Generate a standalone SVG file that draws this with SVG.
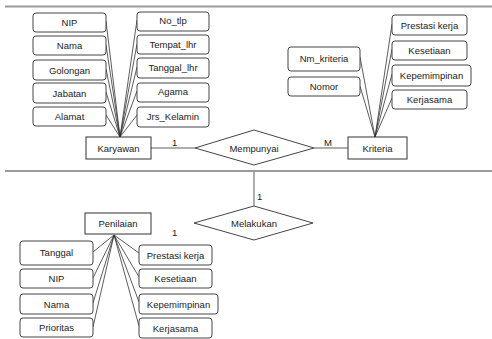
<svg xmlns="http://www.w3.org/2000/svg" width="492" height="339" viewBox="0 0 492 339">
<style>
.sep{stroke:#9a9a9a;stroke-width:2;fill:none}
.ent{fill:#fff;stroke:#333;stroke-width:1}
.att{fill:#fff;stroke:#444;stroke-width:1}
.rel{fill:#fff;stroke:#444;stroke-width:1}
.ln{stroke:#333;stroke-width:0.8;fill:none}
text{font-family:"Liberation Sans",Arial,sans-serif;font-size:9.5px;fill:#222;text-anchor:middle;dominant-baseline:central}
.card{text-anchor:start}
</style>
<rect width="492" height="339" fill="#fff"/>
<line class="sep" x1="5" y1="6.5" x2="492" y2="6.5"/>
<line class="sep" x1="5" y1="171" x2="492" y2="171"/>

<g id="connectors">
<g class="ln">
<line x1="106" y1="21" x2="120" y2="137"/>
<line x1="106" y1="45" x2="120" y2="137"/>
<line x1="106" y1="69" x2="120" y2="137"/>
<line x1="106" y1="92" x2="120" y2="137"/>
<line x1="106" y1="115" x2="120" y2="137"/>
<line x1="137" y1="20" x2="120" y2="137"/>
<line x1="137" y1="44" x2="120" y2="137"/>
<line x1="137" y1="67" x2="120" y2="137"/>
<line x1="137" y1="91" x2="120" y2="137"/>
<line x1="137" y1="115" x2="120" y2="137"/>
<line x1="360" y1="57" x2="375" y2="137"/>
<line x1="360" y1="86" x2="375" y2="137"/>
<line x1="392" y1="24" x2="375" y2="137"/>
<line x1="392" y1="49" x2="375" y2="137"/>
<line x1="392" y1="74" x2="375" y2="137"/>
<line x1="392" y1="98" x2="375" y2="137"/>
<line x1="93" y1="252" x2="114" y2="235"/>
<line x1="93" y1="278" x2="114" y2="235"/>
<line x1="93" y1="303" x2="114" y2="235"/>
<line x1="93" y1="327" x2="114" y2="235"/>
<line x1="139" y1="253" x2="114" y2="235"/>
<line x1="139" y1="277" x2="114" y2="235"/>
<line x1="139" y1="302" x2="114" y2="235"/>
<line x1="139" y1="326" x2="114" y2="235"/>
<line x1="151" y1="148" x2="195" y2="148"/>
<line x1="314" y1="148" x2="348" y2="148"/>
<line x1="254" y1="172" x2="254" y2="206"/>
</g>
<text class="card" x="172" y="142">1</text>
<text class="card" x="324" y="142">M</text>
<text class="card" x="257" y="196">1</text>
<text class="card" x="172" y="232">1</text>
</g>

<g id="Karyawan"><rect class="ent" x="86" y="137" width="65" height="22"/><text x="118.5" y="148">Karyawan</text></g>
<g id="Kriteria"><rect class="ent" x="348" y="137" width="59" height="22"/><text x="377.5" y="148">Kriteria</text></g>
<g id="Penilaian"><rect class="ent" x="85" y="213" width="66" height="21"/><text x="118" y="223">Penilaian</text></g>

<g id="Mempunyai"><polygon class="rel" points="195,148 254,130 314,148 254,165"/><text x="254" y="148">Mempunyai</text></g>
<g id="Melakukan"><polygon class="rel" points="194,223 254,206 313,223 254,240"/><text x="254" y="223">Melakukan</text></g>

<g id="k_nip"><rect class="att" x="33" y="13" width="73" height="19" rx="3"/><text x="69.5" y="22.5">NIP</text></g>
<g id="k_nama"><rect class="att" x="33" y="36" width="73" height="19" rx="3"/><text x="69.5" y="45.5">Nama</text></g>
<g id="k_golongan"><rect class="att" x="33" y="60" width="73" height="20" rx="3"/><text x="69.5" y="70">Golongan</text></g>
<g id="k_jabatan"><rect class="att" x="33" y="83" width="73" height="20" rx="3"/><text x="69.5" y="93">Jabatan</text></g>
<g id="k_alamat"><rect class="att" x="33" y="107" width="73" height="19" rx="3"/><text x="69.5" y="116.5">Alamat</text></g>

<g id="k_notlp"><rect class="att" x="137" y="12" width="72" height="19" rx="3"/><text x="173" y="20.5">No_tlp</text></g>
<g id="k_tempat"><rect class="att" x="137" y="35" width="72" height="19" rx="3"/><text x="173" y="44">Tempat_lhr</text></g>
<g id="k_tanggal"><rect class="att" x="137" y="58" width="72" height="20" rx="3"/><text x="173" y="67">Tanggal_lhr</text></g>
<g id="k_agama"><rect class="att" x="137" y="83" width="72" height="19" rx="3"/><text x="173" y="91.5">Agama</text></g>
<g id="k_jrs"><rect class="att" x="137" y="107" width="72" height="20" rx="3"/><text x="173" y="116">Jrs_Kelamin</text></g>

<g id="kr_nm"><rect class="att" x="288" y="47" width="72" height="24" rx="3"/><text x="324" y="58">Nm_kriteria</text></g>
<g id="kr_nomor"><rect class="att" x="288" y="77" width="72" height="19" rx="3"/><text x="324" y="86.5">Nomor</text></g>
<g id="kr_prestasi"><rect class="att" x="392" y="15" width="75" height="20" rx="3"/><text x="429.5" y="25">Prestasi kerja</text></g>
<g id="kr_kesetiaan"><rect class="att" x="392" y="41" width="75" height="19" rx="3"/><text x="429.5" y="50">Kesetiaan</text></g>
<g id="kr_kepemimpinan"><rect class="att" x="392" y="65" width="79" height="21" rx="3"/><text x="431.5" y="75">Kepemimpinan</text></g>
<g id="kr_kerjasama"><rect class="att" x="392" y="90" width="75" height="19" rx="3"/><text x="429.5" y="99">Kerjasama</text></g>

<g id="p_tanggal"><rect class="att" x="20" y="241" width="73" height="24" rx="3"/><text x="56.5" y="252">Tanggal</text></g>
<g id="p_nip"><rect class="att" x="20" y="269" width="73" height="19" rx="3"/><text x="56.5" y="278">NIP</text></g>
<g id="p_nama"><rect class="att" x="20" y="294" width="73" height="20" rx="3"/><text x="56.5" y="304">Nama</text></g>
<g id="p_prioritas"><rect class="att" x="20" y="318" width="73" height="19" rx="3"/><text x="56.5" y="327">Prioritas</text></g>

<g id="p_prestasi"><rect class="att" x="139" y="245" width="73" height="20" rx="3"/><text x="175.5" y="255">Prestasi kerja</text></g>
<g id="p_kesetiaan"><rect class="att" x="139" y="269" width="73" height="19" rx="3"/><text x="175.5" y="278">Kesetiaan</text></g>
<g id="p_kepemimpinan"><rect class="att" x="139" y="294" width="79" height="20" rx="3"/><text x="178.5" y="304">Kepemimpinan</text></g>
<g id="p_kerjasama"><rect class="att" x="139" y="318" width="73" height="20" rx="3"/><text x="175.5" y="328">Kerjasama</text></g>
</svg>
